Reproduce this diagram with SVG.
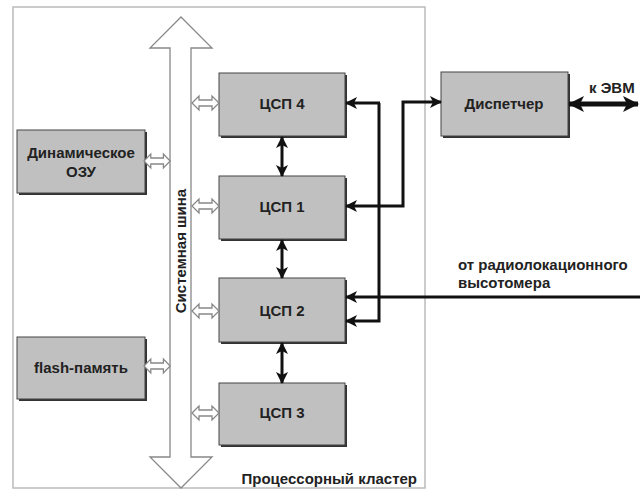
<svg xmlns="http://www.w3.org/2000/svg" width="643" height="494" viewBox="0 0 643 494">
<style>
.t{font-family:"Liberation Sans",Arial,sans-serif;font-size:15px;font-weight:bold;fill:#222}
.box{fill:#c0c0c0;stroke:#444;stroke-width:1}
.sh{fill:#333}
.ln{fill:none;stroke:#111;stroke-width:3}
.ho{fill:#fff;stroke:#888;stroke-width:1.3}
</style>
<defs>
<marker id="ah" markerUnits="userSpaceOnUse" markerWidth="12" markerHeight="12" refX="11" refY="6" orient="auto-start-reverse" viewBox="0 0 12 12">
<path d="M0,0 L12,6 L0,12 L3,6 z" fill="#111"/>
</marker>
<marker id="ahb" markerUnits="userSpaceOnUse" markerWidth="16" markerHeight="16" refX="15" refY="8" orient="auto-start-reverse" viewBox="0 0 16 16">
<path d="M0,0 L16,8 L0,16 L4,8 z" fill="#111"/>
</marker>
<path id="dbl" d="M0,0 L7,-7 L7,-3 L20,-3 L20,-7 L27,0 L20,7 L20,3 L7,3 L7,7 z"/>
</defs>
<rect id="cluster" x="13" y="7" width="412" height="481" fill="#fff" stroke="#bbb" stroke-width="1.5"/>
<g id="bus">
<polygon class="ho" points="181,17 212,48 191,48 191,457 212,457 181,488 150,457 170,457 170,48 150,48"/>
<text class="t" transform="translate(186,251) rotate(-90)" text-anchor="middle">Системная шина</text>
</g>
<g id="cluster-label"><text class="t" x="417" y="484" text-anchor="end">Процессорный кластер</text></g>
<g id="dram">
<rect class="sh" x="19" y="132" width="128" height="63"/>
<rect class="box" x="17" y="130" width="128" height="63"/>
<text class="t" x="81" y="158" text-anchor="middle">Динамическое</text>
<text class="t" x="81" y="177" text-anchor="middle">ОЗУ</text>
</g>
<g id="flash">
<rect class="sh" x="19" y="339" width="128" height="62"/>
<rect class="box" x="17" y="337" width="128" height="62"/>
<text class="t" x="81" y="373" text-anchor="middle">flash-память</text>
</g>
<g id="dsp4">
<rect class="sh" x="221" y="75" width="126" height="63"/>
<rect class="box" x="219" y="73" width="126" height="63"/>
<text class="t" x="282" y="109" text-anchor="middle">ЦСП 4</text>
</g>
<g id="dsp1">
<rect class="sh" x="221" y="178" width="126" height="63"/>
<rect class="box" x="219" y="176" width="126" height="63"/>
<text class="t" x="282" y="212" text-anchor="middle">ЦСП 1</text>
</g>
<g id="dsp2">
<rect class="sh" x="221" y="280" width="126" height="64"/>
<rect class="box" x="219" y="278" width="126" height="64"/>
<text class="t" x="282" y="316" text-anchor="middle">ЦСП 2</text>
</g>
<g id="dsp3">
<rect class="sh" x="221" y="385" width="126" height="62"/>
<rect class="box" x="219" y="383" width="126" height="62"/>
<text class="t" x="282" y="418" text-anchor="middle">ЦСП 3</text>
</g>
<g id="dispatcher">
<rect class="sh" x="443" y="74" width="127" height="64"/>
<rect class="box" x="441" y="72" width="127" height="64"/>
<text class="t" x="504" y="109" text-anchor="middle">Диспетчер</text>
</g>
<g id="labels">
<text class="t" x="589" y="93">к ЭВМ</text>
<text class="t" x="458" y="270">от радиолокационного</text>
<text class="t" x="458" y="288">высотомера</text>
</g>
<g id="connectors">
<use href="#dbl" class="ho" transform="translate(192,103)"/>
<use href="#dbl" class="ho" transform="translate(192,206)"/>
<use href="#dbl" class="ho" transform="translate(192,311)"/>
<use href="#dbl" class="ho" transform="translate(192,413)"/>
<use href="#dbl" class="ho" transform="translate(144,161) scale(0.97,1)"/>
<use href="#dbl" class="ho" transform="translate(144,366) scale(0.97,1)"/>
<line class="ln" x1="282" y1="137" x2="282" y2="176" marker-start="url(#ah)" marker-end="url(#ah)"/>
<line class="ln" x1="282" y1="240" x2="282" y2="278" marker-start="url(#ah)" marker-end="url(#ah)"/>
<line class="ln" x1="282" y1="343" x2="282" y2="383" marker-start="url(#ah)" marker-end="url(#ah)"/>
<polyline class="ln" points="379,103 379,321 346,321" marker-end="url(#ah)"/>
<line class="ln" x1="380" y1="103" x2="346" y2="103" marker-end="url(#ah)"/>
<polyline class="ln" points="441,102 403,102 403,206 346,206" marker-start="url(#ah)" marker-end="url(#ah)"/>
<line class="ln" x1="640" y1="297" x2="346" y2="297" marker-end="url(#ah)"/>
<line x1="569" y1="104" x2="638" y2="104" stroke="#111" stroke-width="5" marker-start="url(#ahb)" marker-end="url(#ahb)"/>
</g>
</svg>
